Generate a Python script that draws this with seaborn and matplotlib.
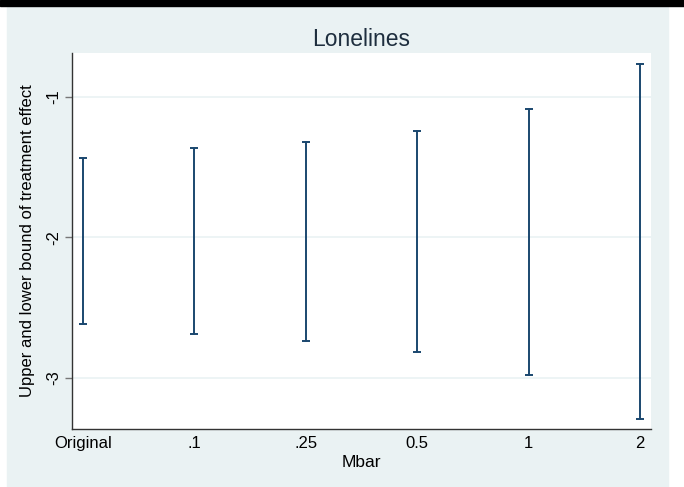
import numpy as np
import pandas as pd
import matplotlib
matplotlib.use("Agg")
import matplotlib.pyplot as plt
import seaborn as sns

# values
mbar = ["Original", ".1", ".25", "0.5", "1", "2"]
upper = [-1.434, -1.363, -1.320, -1.240, -1.083, -0.767]
lower = [-2.619, -2.690, -2.738, -2.814, -2.977, -3.290]
yticks = [-1, -2, -3]

df = pd.DataFrame({"mbar": mbar, "upper": upper, "lower": lower})
df["pos"] = np.arange(len(df))
# long form: one row per end of each bar
long = pd.concat([df[["pos", "upper"]].rename(columns={"upper": "y"}),
                  df[["pos", "lower"]].rename(columns={"lower": "y"})],
                 ignore_index=True)

sns.set_theme(style="white")
plt.rcParams["font.family"] = ["Liberation Sans", "DejaVu Sans"]

bg = "#eaf2f3"
navy = "#1a476f"

fig = plt.figure(figsize=(6.84, 4.87), dpi=100)
fig.patch.set_facecolor("white")
# light panel behind the graph, black strip on top (as in the screenshot)
fig.patches.append(plt.Rectangle((7 / 684, 0), 661 / 684, 1 - 7 / 487,
                                 transform=fig.transFigure, color=bg, zorder=-2))
fig.patches.append(plt.Rectangle((0, 1 - 6 / 487), 1, 6 / 487,
                                 transform=fig.transFigure, color="black", zorder=-1))

ax = fig.add_axes([72 / 684, 1 - 429 / 487, 579 / 684, 376 / 487])
ax.set_facecolor("white")

# vertical bars + caps
sns.lineplot(data=long, x="pos", y="y", units="pos", estimator=None,
             sort=False, color=navy, lw=1.4, ax=ax)
sns.scatterplot(data=long, x="pos", y="y", marker="_", s=36, color=navy,
                linewidth=1.4, ax=ax, zorder=3)

ax.set_xlim(-0.1, 5.1)
ax.set_ylim(-3.363, -0.687)
ax.set_xticks(df["pos"])
ax.set_xticklabels(mbar, fontsize=12)
ax.set_yticks(yticks)
ax.set_yticklabels([str(t) for t in yticks], fontsize=12, rotation=90, va="center")
ax.tick_params(axis="x", length=0, pad=5, colors="black")
ax.tick_params(axis="y", length=5, width=1, color="#777777", pad=3, left=True)
for t in ax.get_xticklabels() + ax.get_yticklabels():
    t.set_color("black")

ax.yaxis.grid(True, color="#eaf2f3", lw=1.2)
ax.set_axisbelow(True)
for s in ["top", "right"]:
    ax.spines[s].set_visible(False)
for s in ["left", "bottom"]:
    ax.spines[s].set_color("#333333")
    ax.spines[s].set_linewidth(1)

ax.set_xlabel("Mbar", fontsize=12.5, labelpad=3, color="black")
ax.set_ylabel("Upper and lower bound of treatment effect", fontsize=12,
              labelpad=8, color="black")
ax.set_title("Lonelines", fontsize=16.5, color="#1e2e3e", pad=5)

fig.savefig("out.png", dpi=100, facecolor=fig.get_facecolor())
